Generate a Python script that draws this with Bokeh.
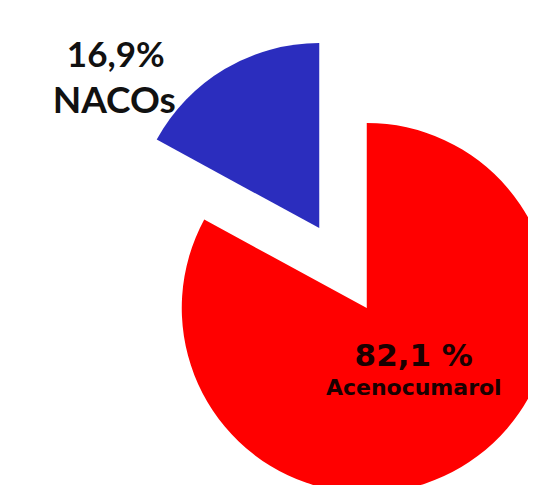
import math
from bokeh.plotting import figure
from bokeh.models import Range1d, ColumnDataSource
from bokeh.core.properties import value
from bokeh.embed import file_html
from bokeh.resources import INLINE

# data
categories = ["Acenocumarol", "NACOs"]
percents = [82.1, 16.9]
pct_labels = ["82,1 %", "16,9%"]
colors = ["#FF0000", "#2B2DBE"]

# geometry (style)
CX, CY = 342.5, -267.5
R = 185.0
EXPLODE = 46.5

total = sum(percents)
# NACOs slice goes anticlockwise from 12 o'clock; Acenocumarol takes the rest
nac_span = percents[1] / total * 2 * math.pi
starts = [math.pi / 2 + nac_span, math.pi / 2]
ends = [math.pi / 2 + 2 * math.pi, math.pi / 2 + nac_span]
xs, ys = [], []
for s, e in zip(starts, ends):
    mid = (s + e) / 2
    xs.append(CX + EXPLODE * math.cos(mid))
    ys.append(CY + EXPLODE * math.sin(mid))

src = ColumnDataSource(dict(x=xs, y=ys, start=starts, end=ends, color=colors))

p = figure(width=528, height=485, output_backend="svg", toolbar_location=None,
           x_range=Range1d(0, 528), y_range=Range1d(-485, 0), min_border=0)
p.axis.visible = False
p.grid.visible = False
p.outline_line_color = None
p.background_fill_color = "white"
p.border_fill_color = "white"

p.wedge(x="x", y="y", radius=R, start_angle="start", end_angle="end",
        fill_color="color", line_color=None, source=src)

# Acenocumarol label inside red slice
rx, ry = xs[0], ys[0]
p.text(x=[rx + 47], y=[ry - 47], text=[pct_labels[0]], text_font=value("DejaVu Sans"),
       text_font_size="31px", text_font_style="bold", text_color="#1a0000",
       text_align="center", text_baseline="alphabetic")
p.text(x=[rx + 47], y=[ry - 80], text=[categories[0]], text_font=value("DejaVu Sans"),
       text_font_size="22px", text_font_style="bold", text_color="#1a0000",
       text_align="center", text_baseline="alphabetic")
# NACOs label outside blue slice
bx, by = xs[1], ys[1]
p.text(x=[bx - 203.5], y=[by + 175], text=[pct_labels[1]], text_font=value("Lato"),
       text_font_size="35px", text_font_style="bold", text_color="#111111",
       text_align="center", text_baseline="alphabetic")
p.text(x=[bx - 205], y=[by + 130], text=[categories[1]], text_font=value("Lato"),
       text_font_size="37px", text_font_style="bold", text_color="#111111",
       text_align="center", text_baseline="alphabetic")

open("out.html", "w").write(file_html(p, INLINE))
